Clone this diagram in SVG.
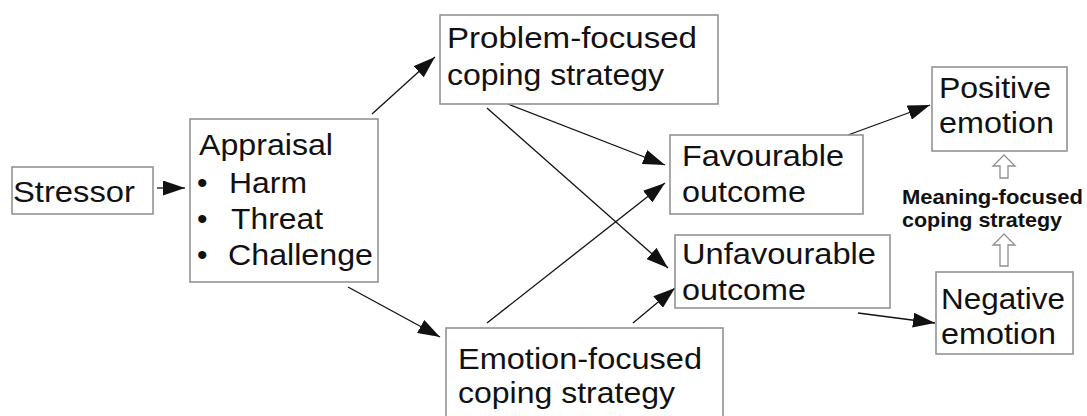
<svg xmlns="http://www.w3.org/2000/svg" width="1087" height="416" viewBox="0 0 1087 416">
  <defs>
    <style>
      .box { fill: #ffffff; stroke: #939393; stroke-width: 1.6; }
      .t { font-family: "Liberation Sans", Arial, sans-serif; font-size: 30px; fill: #111111; }
      .b { font-family: "Liberation Sans", Arial, sans-serif; font-size: 21px; font-weight: bold; fill: #111111; }
      .edge { stroke: #111111; stroke-width: 1.3; fill: none; marker-end: url(#head); }
      .hollow { fill: #ffffff; stroke: #8f8f8f; stroke-width: 1.3; }
    </style>
    <marker id="head" markerUnits="userSpaceOnUse" markerWidth="22" markerHeight="15" refX="22" refY="7.5" orient="auto">
      <path d="M0,0 L22,7.5 L0,15 z" fill="#111111"/>
    </marker>
  </defs>

  <rect width="1087" height="416" fill="#ffffff"/>

  <!-- connectors -->
  <g id="connectors">
    <line class="edge" x1="157" y1="188" x2="185" y2="188"/>
    <line class="edge" x1="372" y1="114" x2="435" y2="57"/>
    <line class="edge" x1="348" y1="287" x2="440" y2="337"/>
    <line class="edge" x1="508" y1="104" x2="665" y2="165"/>
    <line class="edge" x1="487" y1="108" x2="668" y2="268"/>
    <line class="edge" x1="487" y1="323" x2="665" y2="183"/>
    <line class="edge" x1="633" y1="323" x2="675" y2="288"/>
    <line class="edge" x1="848" y1="135" x2="930" y2="105"/>
    <line class="edge" x1="858" y1="313" x2="935" y2="323"/>
    <!-- hollow block arrows for the meaning-focused path -->
    <path class="hollow" d="M1004,155 L1015,166 L1008,166 L1008,178 L1000,178 L1000,166 L993,166 Z"/>
    <path class="hollow" d="M1004,234 L1015,245 L1008,245 L1008,266 L1000,266 L1000,245 L993,245 Z"/>
  </g>

  <g id="stressor">
    <rect class="box" x="12" y="167" width="141" height="47"/>
    <text class="t" x="13" y="202" textLength="122" lengthAdjust="spacingAndGlyphs">Stressor</text>
  </g>

  <g id="appraisal">
    <rect class="box" x="190" y="119" width="188" height="163"/>
    <text class="t" x="199" y="155" textLength="134" lengthAdjust="spacingAndGlyphs">Appraisal</text>
    <text class="t" x="197" y="193">•</text>
    <text class="t" x="229" y="193" textLength="78" lengthAdjust="spacingAndGlyphs">Harm</text>
    <text class="t" x="197" y="229">•</text>
    <text class="t" x="231" y="229" textLength="92" lengthAdjust="spacingAndGlyphs">Threat</text>
    <text class="t" x="197" y="265">•</text>
    <text class="t" x="228" y="265" textLength="145" lengthAdjust="spacingAndGlyphs">Challenge</text>
  </g>

  <g id="problem-focused">
    <rect class="box" x="440" y="15" width="278" height="89"/>
    <text class="t" x="447" y="48" textLength="250" lengthAdjust="spacingAndGlyphs">Problem-focused</text>
    <text class="t" x="447" y="85" textLength="217" lengthAdjust="spacingAndGlyphs">coping strategy</text>
  </g>

  <g id="emotion-focused">
    <rect class="box" x="446" y="328" width="277" height="95"/>
    <text class="t" x="458" y="369" textLength="244" lengthAdjust="spacingAndGlyphs">Emotion-focused</text>
    <text class="t" x="458" y="403" textLength="217" lengthAdjust="spacingAndGlyphs">coping strategy</text>
  </g>

  <g id="favourable">
    <rect class="box" x="670" y="135" width="193" height="79"/>
    <text class="t" x="682" y="166" textLength="162" lengthAdjust="spacingAndGlyphs">Favourable</text>
    <text class="t" x="682" y="202" textLength="124" lengthAdjust="spacingAndGlyphs">outcome</text>
  </g>

  <g id="unfavourable">
    <rect class="box" x="675" y="235" width="215" height="73"/>
    <text class="t" x="682" y="264" textLength="194" lengthAdjust="spacingAndGlyphs">Unfavourable</text>
    <text class="t" x="682" y="300" textLength="124" lengthAdjust="spacingAndGlyphs">outcome</text>
  </g>

  <g id="positive">
    <rect class="box" x="932" y="67" width="135" height="84"/>
    <text class="t" x="939" y="98" textLength="112" lengthAdjust="spacingAndGlyphs">Positive</text>
    <text class="t" x="939" y="133" textLength="115" lengthAdjust="spacingAndGlyphs">emotion</text>
  </g>

  <g id="negative">
    <rect class="box" x="936" y="272" width="137" height="82"/>
    <text class="t" x="941" y="309" textLength="124" lengthAdjust="spacingAndGlyphs">Negative</text>
    <text class="t" x="941" y="344" textLength="115" lengthAdjust="spacingAndGlyphs">emotion</text>
  </g>

  <g id="meaning-focused">
    <text class="b" x="902" y="204" textLength="181" lengthAdjust="spacingAndGlyphs">Meaning-focused</text>
    <text class="b" x="902" y="227" textLength="160" lengthAdjust="spacingAndGlyphs">coping strategy</text>
  </g>
</svg>
